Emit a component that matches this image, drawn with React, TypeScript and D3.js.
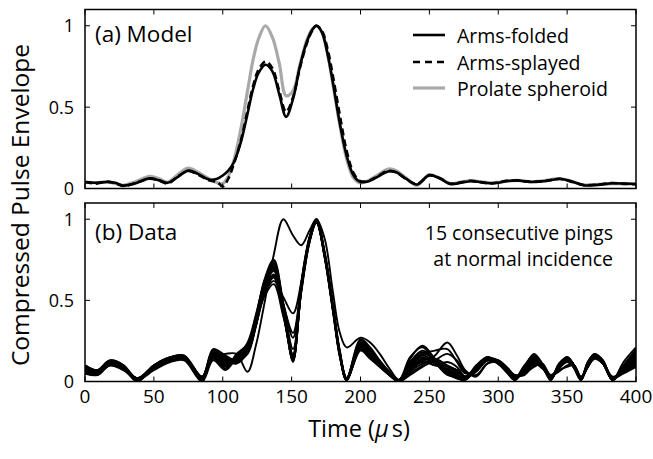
import React, { useEffect, useRef } from 'react';
import * as d3 from 'd3';

// panel (a) model curves
const timeModel = [0, 8, 16, 22, 28, 36, 47, 54, 60, 68, 75, 82, 90, 96, 100, 104, 108, 113, 118, 122, 126, 131, 136, 141, 146, 151, 156, 161, 165, 168, 172, 176, 180, 185, 190, 195, 200, 206, 213, 220, 226, 233, 241, 250, 258, 265, 273, 280, 287, 294, 300, 306, 314, 323, 333, 345, 353, 362, 372, 383, 392, 400];

const armsFolded = [
  0.040, 0.035, 0.040, 0.035, 0.018, 0.030, 0.062, 0.050, 0.035, 0.075,
  0.110, 0.090, 0.055, 0.060, 0.080, 0.110, 0.160, 0.280, 0.460, 0.610,
  0.710, 0.760, 0.720, 0.580, 0.440, 0.550, 0.750, 0.900, 0.975, 1.000,
  0.960, 0.830, 0.650, 0.400, 0.200, 0.080, 0.040, 0.045, 0.075, 0.105,
  0.100, 0.060, 0.025, 0.082, 0.060, 0.028, 0.035, 0.045, 0.040, 0.032,
  0.035, 0.045, 0.050, 0.040, 0.045, 0.058, 0.045, 0.020, 0.022, 0.032,
  0.030, 0.028];

const armsSplayed = [
  0.040, 0.030, 0.042, 0.032, 0.015, 0.032, 0.060, 0.048, 0.030, 0.078,
  0.108, 0.085, 0.050, 0.040, 0.012, 0.060, 0.150, 0.290, 0.480, 0.630,
  0.730, 0.780, 0.740, 0.600, 0.470, 0.560, 0.740, 0.890, 0.970, 1.000,
  0.970, 0.860, 0.690, 0.450, 0.230, 0.095, 0.045, 0.048, 0.078, 0.108,
  0.098, 0.058, 0.028, 0.080, 0.062, 0.030, 0.038, 0.048, 0.038, 0.030,
  0.038, 0.048, 0.048, 0.042, 0.045, 0.060, 0.042, 0.022, 0.024, 0.034,
  0.028, 0.026];

const prolateSpheroid = [
  0.040, 0.035, 0.040, 0.030, 0.020, 0.040, 0.075, 0.060, 0.040, 0.090,
  0.125, 0.100, 0.060, 0.035, 0.030, 0.075, 0.170, 0.360, 0.600, 0.790,
  0.920, 1.000, 0.930, 0.770, 0.570, 0.600, 0.760, 0.910, 0.980, 1.000,
  0.960, 0.830, 0.640, 0.390, 0.180, 0.065, 0.035, 0.050, 0.085, 0.120,
  0.110, 0.065, 0.020, 0.085, 0.062, 0.030, 0.040, 0.048, 0.042, 0.035,
  0.038, 0.045, 0.050, 0.042, 0.048, 0.060, 0.045, 0.022, 0.025, 0.030,
  0.030, 0.028];

// panel (b) measured pings
const timeData = [0, 9, 18, 28, 38, 50, 62, 72, 85, 93, 102, 110, 118, 124, 130, 137, 144, 151, 157, 163, 168, 174, 180, 185, 190,
  200, 207, 214, 221, 228, 236, 245, 254, 263, 270, 276, 284, 292, 300, 306, 312, 319, 326, 332, 338, 344, 350, 355, 360, 365, 370, 376, 383, 391, 400];

const ping01 = [0.05, 0.04, 0.10, 0.08, 0.02, 0.09, 0.14, 0.15, 0.03, 0.15, 0.17, 0.17,
  0.06, 0.22, 0.47, 0.78, 1.00, 0.90, 0.84, 0.93, 1.00, 0.88, 0.55, 0.30, 0.21,
  0.27, 0.24, 0.17, 0.08, 0.01, 0.10, 0.17, 0.19, 0.20, 0.12, 0.05, 0.07, 0.13, 0.12, 0.07, 0.02, 0.07, 0.14, 0.10, 0.02, 0.09, 0.14, 0.10, 0.02, 0.11, 0.16, 0.12, 0.01, 0.10, 0.20];
const ping02 = [0.08, 0.06, 0.12, 0.09, 0.01, 0.09, 0.14, 0.15, 0.02, 0.17, 0.12, 0.14,
  0.20, 0.38, 0.62, 0.75, 0.48, 0.12, 0.58, 0.88, 0.99, 0.78, 0.45, 0.17, 0.01,
  0.24, 0.19, 0.12, 0.05, 0.00, 0.14, 0.22, 0.14, 0.05, 0.02, 0.01, 0.08, 0.15, 0.12, 0.07, 0.01, 0.09, 0.17, 0.11, 0.01, 0.10, 0.15, 0.10, 0.01, 0.11, 0.16, 0.12, 0.01, 0.10, 0.18];
const ping03 = [0.06, 0.05, 0.11, 0.08, 0.02, 0.08, 0.13, 0.14, 0.01, 0.15, 0.09, 0.16,
  0.22, 0.40, 0.61, 0.74, 0.46, 0.14, 0.60, 0.89, 1.00, 0.79, 0.46, 0.18, 0.02,
  0.21, 0.16, 0.10, 0.04, 0.01, 0.08, 0.13, 0.10, 0.12, 0.09, 0.03, 0.07, 0.14, 0.12, 0.07, 0.02, 0.06, 0.12, 0.09, 0.02, 0.08, 0.13, 0.09, 0.02, 0.10, 0.16, 0.12, 0.02, 0.08, 0.14];
const ping04 = [0.10, 0.07, 0.13, 0.10, 0.00, 0.10, 0.15, 0.16, 0.03, 0.19, 0.15, 0.12,
  0.19, 0.36, 0.60, 0.73, 0.47, 0.13, 0.57, 0.87, 0.99, 0.77, 0.44, 0.16, 0.01,
  0.22, 0.17, 0.11, 0.05, 0.00, 0.05, 0.10, 0.16, 0.24, 0.16, 0.07, 0.03, 0.11, 0.13, 0.09, 0.04, 0.04, 0.10, 0.10, 0.04, 0.06, 0.10, 0.10, 0.03, 0.09, 0.15, 0.12, 0.03, 0.06, 0.10];
const ping05 = [0.07, 0.04, 0.10, 0.07, 0.01, 0.07, 0.12, 0.13, 0.00, 0.13, 0.07, 0.15,
  0.24, 0.41, 0.60, 0.72, 0.45, 0.15, 0.61, 0.89, 0.99, 0.78, 0.46, 0.17, 0.02,
  0.26, 0.21, 0.13, 0.06, 0.01, 0.15, 0.21, 0.12, 0.04, 0.03, 0.02, 0.06, 0.13, 0.13, 0.08, 0.02, 0.10, 0.16, 0.10, 0.01, 0.11, 0.15, 0.09, 0.01, 0.12, 0.17, 0.13, 0.01, 0.12, 0.21];
const ping06 = [0.09, 0.06, 0.12, 0.09, 0.02, 0.10, 0.14, 0.14, 0.02, 0.18, 0.13, 0.11,
  0.18, 0.35, 0.58, 0.71, 0.44, 0.13, 0.56, 0.86, 0.98, 0.77, 0.45, 0.16, 0.01,
  0.20, 0.15, 0.09, 0.04, 0.00, 0.07, 0.12, 0.10, 0.08, 0.06, 0.03, 0.09, 0.13, 0.11, 0.06, 0.01, 0.08, 0.14, 0.10, 0.02, 0.09, 0.12, 0.09, 0.01, 0.11, 0.15, 0.11, 0.01, 0.09, 0.16];
const ping07 = [0.05, 0.05, 0.10, 0.08, 0.01, 0.08, 0.13, 0.15, 0.02, 0.16, 0.11, 0.15,
  0.21, 0.37, 0.58, 0.70, 0.45, 0.16, 0.59, 0.88, 0.99, 0.79, 0.47, 0.18, 0.02,
  0.23, 0.18, 0.11, 0.05, 0.01, 0.11, 0.17, 0.14, 0.07, 0.04, 0.02, 0.08, 0.14, 0.13, 0.08, 0.03, 0.05, 0.11, 0.08, 0.03, 0.10, 0.15, 0.10, 0.02, 0.09, 0.16, 0.12, 0.02, 0.07, 0.12];
const ping08 = [0.08, 0.07, 0.13, 0.10, 0.02, 0.09, 0.15, 0.16, 0.03, 0.20, 0.16, 0.13,
  0.17, 0.34, 0.57, 0.70, 0.47, 0.20, 0.55, 0.86, 0.99, 0.76, 0.43, 0.15, 0.01,
  0.19, 0.14, 0.09, 0.04, 0.00, 0.04, 0.09, 0.13, 0.17, 0.13, 0.06, 0.04, 0.11, 0.12, 0.09, 0.04, 0.05, 0.09, 0.11, 0.04, 0.07, 0.09, 0.10, 0.03, 0.09, 0.14, 0.11, 0.02, 0.05, 0.09];
const ping09 = [0.07, 0.05, 0.11, 0.09, 0.01, 0.09, 0.14, 0.15, 0.01, 0.14, 0.08, 0.17,
  0.23, 0.39, 0.57, 0.69, 0.43, 0.14, 0.60, 0.88, 1.00, 0.80, 0.47, 0.19, 0.02,
  0.25, 0.20, 0.12, 0.05, 0.01, 0.12, 0.19, 0.14, 0.05, 0.02, 0.01, 0.08, 0.15, 0.11, 0.06, 0.01, 0.08, 0.15, 0.10, 0.01, 0.10, 0.14, 0.10, 0.01, 0.11, 0.16, 0.12, 0.01, 0.09, 0.17];
const ping10 = [0.09, 0.06, 0.12, 0.08, 0.00, 0.09, 0.14, 0.15, 0.02, 0.17, 0.14, 0.12,
  0.18, 0.34, 0.56, 0.68, 0.48, 0.27, 0.58, 0.87, 0.98, 0.77, 0.44, 0.16, 0.01,
  0.21, 0.16, 0.10, 0.04, 0.00, 0.06, 0.11, 0.12, 0.09, 0.07, 0.03, 0.09, 0.14, 0.11, 0.06, 0.02, 0.06, 0.13, 0.09, 0.03, 0.09, 0.13, 0.09, 0.02, 0.10, 0.15, 0.11, 0.02, 0.07, 0.13];
const ping11 = [0.06, 0.05, 0.10, 0.07, 0.02, 0.08, 0.13, 0.14, 0.01, 0.15, 0.10, 0.14,
  0.20, 0.36, 0.55, 0.66, 0.42, 0.13, 0.57, 0.87, 0.99, 0.78, 0.45, 0.17, 0.01,
  0.22, 0.17, 0.10, 0.04, 0.01, 0.09, 0.15, 0.11, 0.05, 0.03, 0.02, 0.08, 0.14, 0.12, 0.07, 0.02, 0.08, 0.14, 0.09, 0.02, 0.08, 0.13, 0.08, 0.01, 0.10, 0.16, 0.12, 0.01, 0.08, 0.15];
const ping12 = [0.10, 0.07, 0.12, 0.09, 0.01, 0.10, 0.15, 0.15, 0.03, 0.18, 0.14, 0.13,
  0.19, 0.35, 0.55, 0.65, 0.47, 0.30, 0.59, 0.88, 0.99, 0.78, 0.45, 0.17, 0.02,
  0.24, 0.19, 0.12, 0.06, 0.01, 0.12, 0.18, 0.13, 0.06, 0.04, 0.02, 0.10, 0.15, 0.12, 0.07, 0.02, 0.07, 0.13, 0.09, 0.02, 0.10, 0.14, 0.10, 0.02, 0.12, 0.17, 0.13, 0.02, 0.09, 0.19];
const ping13 = [0.07, 0.06, 0.11, 0.08, 0.01, 0.09, 0.14, 0.14, 0.02, 0.16, 0.11, 0.13,
  0.18, 0.34, 0.53, 0.64, 0.41, 0.15, 0.56, 0.86, 0.98, 0.77, 0.44, 0.16, 0.01,
  0.20, 0.15, 0.09, 0.04, 0.00, 0.07, 0.13, 0.14, 0.10, 0.07, 0.03, 0.07, 0.13, 0.12, 0.08, 0.03, 0.05, 0.11, 0.09, 0.03, 0.08, 0.12, 0.09, 0.02, 0.09, 0.15, 0.11, 0.02, 0.06, 0.11];
const ping14 = [0.08, 0.06, 0.12, 0.09, 0.02, 0.09, 0.14, 0.15, 0.02, 0.17, 0.13, 0.14,
  0.21, 0.37, 0.53, 0.62, 0.52, 0.42, 0.61, 0.88, 0.99, 0.78, 0.46, 0.18, 0.02,
  0.23, 0.18, 0.11, 0.05, 0.01, 0.10, 0.16, 0.12, 0.05, 0.03, 0.02, 0.09, 0.14, 0.12, 0.07, 0.01, 0.09, 0.15, 0.10, 0.01, 0.10, 0.15, 0.10, 0.01, 0.11, 0.16, 0.12, 0.01, 0.09, 0.16];
const ping15 = [0.06, 0.05, 0.11, 0.08, 0.01, 0.08, 0.13, 0.14, 0.01, 0.15, 0.10, 0.15,
  0.20, 0.35, 0.52, 0.60, 0.40, 0.17, 0.57, 0.87, 0.99, 0.78, 0.45, 0.17, 0.01,
  0.22, 0.17, 0.10, 0.05, 0.00, 0.08, 0.14, 0.11, 0.07, 0.05, 0.02, 0.08, 0.13, 0.11, 0.06, 0.02, 0.07, 0.12, 0.09, 0.02, 0.09, 0.13, 0.09, 0.02, 0.10, 0.15, 0.11, 0.01, 0.08, 0.14];

const pings = [ping02, ping03, ping04, ping05, ping06, ping07, ping08, ping09, ping10, ping11, ping12, ping13, ping14, ping15, ping01];

const xTicks = [0, 50, 100, 150, 200, 250, 300, 350, 400];
const yTicks = [0, 0.5, 1];
const yTickLabels = ['0', '0.5', '1'];

const legendNames = ['Arms-folded', 'Arms-splayed', 'Prolate spheroid'];

const FONT = "'Open Sans', sans-serif";

function useD3(render: (svg: any) => void, deps: any[]) {
  const ref = useRef<SVGSVGElement>(null);
  useEffect(() => {
    render(d3.select(ref.current));
    return () => {};
  }, deps);
  return ref;
}

function PulseChart() {
  const ref = useD3((svg) => {
    svg.selectAll('*').remove();

    const w = 653,
      h = 459;
    svg.attr('width', w).attr('height', h);

    const x = d3.scaleLinear().domain([0, 400]).range([85, 636]);
    const panels = [
      { top: 9.5, bottom: 188.5 },
      { top: 203, bottom: 381.5 },
    ];

    panels.forEach((p, pi) => {
      const y = d3.scaleLinear().domain([0, 1.1]).range([p.bottom, p.top]);
      const g = svg.append('g');

      const clipId = 'clip' + pi;
      svg.append('clipPath').attr('id', clipId)
        .append('rect')
        .attr('x', x(0)).attr('y', p.top)
        .attr('width', x(400) - x(0)).attr('height', p.bottom - p.top);

      const plot = g.append('g').attr('clip-path', `url(#${clipId})`);

      if (pi === 0) {
        const line = d3.line<number>()
          .x((d, i) => x(timeModel[i]))
          .y((d) => y(d))
          .curve(d3.curveCatmullRom.alpha(0.5));
        plot.append('path').attr('d', line(prolateSpheroid))
          .attr('fill', 'none').attr('stroke', '#a9a9a9').attr('stroke-width', 3.2);
        plot.append('path').attr('d', line(armsSplayed))
          .attr('fill', 'none').attr('stroke', '#000').attr('stroke-width', 2.6)
          .attr('stroke-dasharray', '7,4');
        plot.append('path').attr('d', line(armsFolded))
          .attr('fill', 'none').attr('stroke', '#000').attr('stroke-width', 2.6);
      } else {
        const line = d3.line<number>()
          .x((d, i) => x(timeData[i]))
          .y((d) => y(d))
          .curve(d3.curveCatmullRom.alpha(0.5));
        plot.selectAll('path.ping')
          .data(pings)
          .enter()
          .append('path')
          .attr('class', 'ping')
          .attr('d', (d) => line(d))
          .attr('fill', 'none')
          .attr('stroke', '#000')
          .attr('stroke-width', 1.9);
      }

      // frame
      g.append('rect')
        .attr('x', x(0)).attr('y', p.top)
        .attr('width', x(400) - x(0)).attr('height', p.bottom - p.top)
        .attr('fill', 'none').attr('stroke', '#000').attr('stroke-width', 1.5);

      // inward ticks on all four sides
      xTicks.forEach((t) => {
        g.append('line').attr('x1', x(t)).attr('x2', x(t))
          .attr('y1', p.bottom).attr('y2', p.bottom - 5)
          .attr('stroke', '#000').attr('stroke-width', 1);
        g.append('line').attr('x1', x(t)).attr('x2', x(t))
          .attr('y1', p.top).attr('y2', p.top + 5)
          .attr('stroke', '#000').attr('stroke-width', 1);
      });
      yTicks.forEach((t, i) => {
        g.append('line').attr('x1', x(0)).attr('x2', x(0) + 5)
          .attr('y1', y(t)).attr('y2', y(t))
          .attr('stroke', '#000').attr('stroke-width', 1);
        g.append('line').attr('x1', x(400)).attr('x2', x(400) - 5)
          .attr('y1', y(t)).attr('y2', y(t))
          .attr('stroke', '#000').attr('stroke-width', 1);
        g.append('text')
          .attr('x', 74).attr('y', y(t)).attr('dy', '0.36em')
          .attr('text-anchor', 'end')
          .attr('font-family', FONT).attr('font-size', 18)
          .text(yTickLabels[i]);
      });
    });

    // x tick labels (bottom panel only)
    xTicks.forEach((t) => {
      svg.append('text')
        .attr('x', x(t)).attr('y', 403)
        .attr('text-anchor', 'middle')
        .attr('font-family', FONT).attr('font-size', 19)
        .text(t);
    });

    // axis titles
    const xt = svg.append('text')
      .attr('x', 359).attr('y', 437)
      .attr('text-anchor', 'middle')
      .attr('font-family', FONT).attr('font-size', 23.5);
    xt.append('tspan').text('Time (');
    xt.append('tspan').attr('font-style', 'italic').text('\u03bc');
    xt.append('tspan').attr('dx', 3).text('s)');

    svg.append('text')
      .attr('transform', 'translate(29,205) rotate(-90)')
      .attr('text-anchor', 'middle')
      .attr('font-family', FONT).attr('font-size', 24.5)
      .text('Compressed Pulse Envelope');

    // panel annotations
    svg.append('text').attr('x', 95).attr('y', 42)
      .attr('font-family', FONT).attr('font-size', 22.5).text('(a) Model');
    svg.append('text').attr('x', 95).attr('y', 240)
      .attr('font-family', FONT).attr('font-size', 22.5).text('(b) Data');
    svg.append('text').attr('x', 613).attr('y', 240)
      .attr('text-anchor', 'end')
      .attr('font-family', FONT).attr('font-size', 19.5).text('15 consecutive pings');
    svg.append('text').attr('x', 613).attr('y', 266)
      .attr('text-anchor', 'end')
      .attr('font-family', FONT).attr('font-size', 19.5).text('at normal incidence');

    // legend
    const legendY = [35, 62, 88];
    const legendStyle = [
      { stroke: '#000', dash: null, width: 2.6 },
      { stroke: '#000', dash: '7,5', width: 2.6 },
      { stroke: '#a9a9a9', dash: null, width: 3.2 },
    ];
    legendNames.forEach((name, i) => {
      const ln = svg.append('line')
        .attr('x1', 413).attr('x2', 445)
        .attr('y1', legendY[i]).attr('y2', legendY[i])
        .attr('stroke', legendStyle[i].stroke)
        .attr('stroke-width', legendStyle[i].width);
      if (legendStyle[i].dash) ln.attr('stroke-dasharray', legendStyle[i].dash);
      svg.append('text')
        .attr('x', 457).attr('y', legendY[i] + 8)
        .attr('font-family', FONT).attr('font-size', 19.5)
        .text(name);
    });
  }, []);

  return (
    <svg ref={ref} style={{ position: 'absolute', left: 0, top: 0, display: 'block', background: '#fff' }}></svg>
  );
}

export default function App() {
  return <PulseChart />;
}
